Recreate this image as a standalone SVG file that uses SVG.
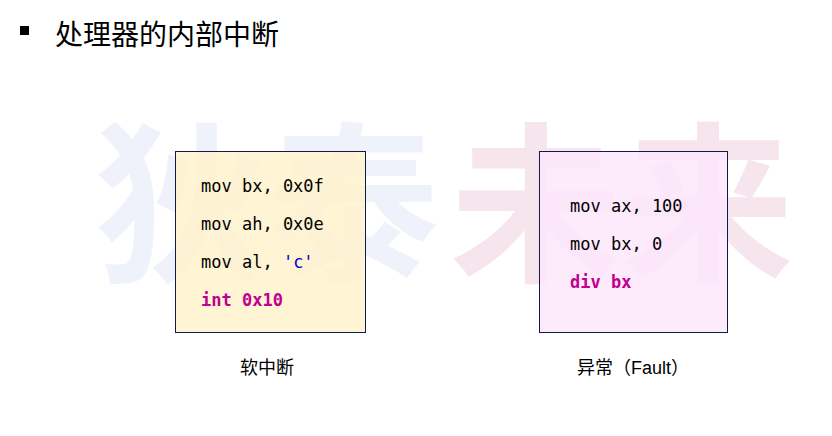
<svg xmlns="http://www.w3.org/2000/svg" width="832" height="436" viewBox="0 0 832 436">
<style>
.code{font-family:"DejaVu Sans Mono","Liberation Mono",monospace;font-size:17px;fill:#000}
.kw{fill:#c0008f;font-weight:bold}
.str{fill:#0000cc}
.lbl{font-family:"Liberation Sans","Noto Sans CJK SC",sans-serif;font-size:18px;fill:#000}
.wm{font-family:"Noto Sans CJK SC",sans-serif;font-size:172px;font-weight:bold}
</style>
<rect width="832" height="436" fill="#fff"/>
<g id="watermark" opacity="0.45">
<text class="wm" x="95" y="268" fill="#dde2f7">狄泰</text>
<text class="wm" x="450" y="268" fill="#ecc6d8">未来</text>
</g>
<rect x="20" y="26" width="9" height="9" fill="#000"/>
<text x="55" y="45" font-family="'Noto Sans CJK SC',sans-serif" font-size="28" fill="#000">处理器的内部中断</text>
<g id="node-soft">
<rect x="175.5" y="151.5" width="190" height="181" fill="#fff2cc" fill-opacity="0.85" stroke="#0d1b4f" stroke-width="1"/>
<text class="code" x="201" y="192">mov bx, 0x0f</text>
<text class="code" x="201" y="230">mov ah, 0x0e</text>
<text class="code" x="201" y="268">mov al, <tspan class="str">'c'</tspan></text>
<text class="code kw" x="201" y="306">int 0x10</text>
<text class="lbl" x="267" y="374" text-anchor="middle">软中断</text>
</g>
<g id="node-fault">
<rect x="539.5" y="151.5" width="188" height="181" fill="#fde8fb" fill-opacity="0.85" stroke="#0d1b4f" stroke-width="1"/>
<text class="code" x="570" y="212">mov ax, 100</text>
<text class="code" x="570" y="250">mov bx, 0</text>
<text class="code kw" x="570" y="288">div bx</text>
<text class="lbl" x="633" y="374" text-anchor="middle">异常（Fault）</text>
</g>
<g id="connectors"/>
</svg>
